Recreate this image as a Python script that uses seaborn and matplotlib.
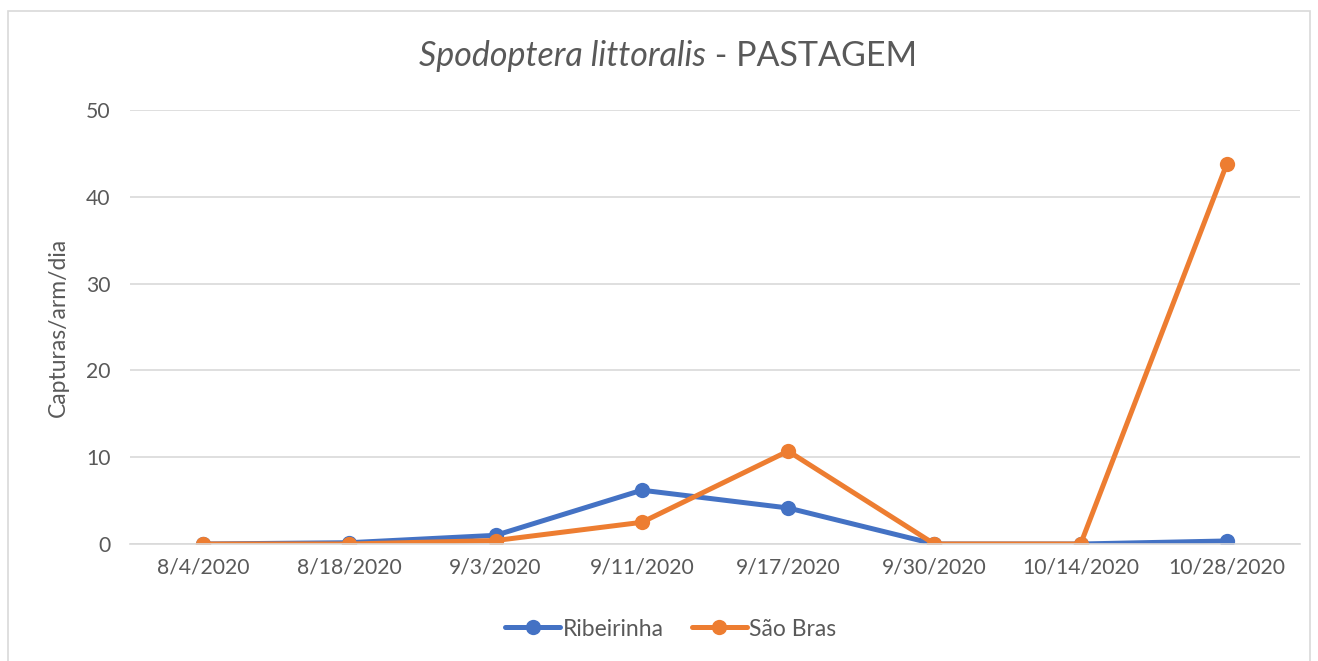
import matplotlib
matplotlib.use("Agg")
import matplotlib.pyplot as plt
import seaborn as sns
import pandas as pd
from matplotlib.patches import Rectangle
from matplotlib.offsetbox import TextArea, HPacker, AnchoredOffsetbox

dates = ["8/4/2020", "8/18/2020", "9/3/2020", "9/11/2020", "9/17/2020", "9/30/2020", "10/14/2020", "10/28/2020"]
ribeirinha = [0.0, 0.15, 1.0, 6.2, 4.15, 0.0, 0.0, 0.35]
sao_bras = [0.0, 0.0, 0.4, 2.5, 10.7, 0.0, 0.0, 43.8]
series_names = ["Ribeirinha", "São Bras"]
colors = ["#4472C4", "#ED7D31"]

df = pd.concat([
    pd.DataFrame({"x": range(len(dates)), "y": ribeirinha, "s": series_names[0]}),
    pd.DataFrame({"x": range(len(dates)), "y": sao_bras, "s": series_names[1]}),
])

sns.set_theme(style="white")
plt.rcParams["font.family"] = ["Lato", "DejaVu Sans"]
txt = "#595959"

fig = plt.figure(figsize=(13.18, 6.61), dpi=100)
ax = fig.add_axes([130/1318, 1 - 544/661, 1170/1318, 434/661])

sns.lineplot(data=df, x="x", y="y", hue="s", palette=colors, marker="o",
             markersize=11, markeredgewidth=0, linewidth=3.6, ax=ax, legend=True)

ax.set_xlim(-0.5, len(dates) - 0.5)
ax.set_ylim(0, 50)
ax.set_yticks([0, 10, 20, 30, 40, 50])
ax.set_xticks(range(len(dates)))
ax.set_xticklabels(dates)
ax.tick_params(axis="both", labelsize=15.2, colors=txt, length=0, pad=10)
ax.tick_params(axis="y", pad=14)
ax.yaxis.grid(True, color="#D9D9D9", linewidth=1.2)
ax.set_axisbelow(True)
for sp in ["top", "right", "left"]:
    ax.spines[sp].set_visible(False)
ax.spines["bottom"].set_color("#D9D9D9")
ax.spines["bottom"].set_linewidth(1.2)
ax.set_xlabel("")
ax.set_ylabel("Capturas/arm/dia", fontsize=16.5, color=txt, labelpad=12)

ta1 = TextArea("Spodoptera littoralis", textprops=dict(fontsize=24.5, color=txt, style="italic"))
ta2 = TextArea(" - PASTAGEM", textprops=dict(fontsize=24.5, color=txt))
box = HPacker(children=[ta1, ta2], align="baseline", pad=0, sep=0)
ab = AnchoredOffsetbox(loc="center", child=box, frameon=False,
                       bbox_to_anchor=(668/1318, 1 - 56/661), bbox_transform=fig.transFigure, pad=0, borderpad=0)
fig.add_artist(ab)

handles, labels = ax.get_legend_handles_labels()
ax.legend(handles, labels, loc="center", bbox_to_anchor=(671/1318, 1 - 629/661),
          bbox_transform=fig.transFigure, ncol=2, frameon=False, fontsize=16.5,
          handlelength=2.4, handletextpad=0.12, columnspacing=1.2, labelcolor=txt,
          borderpad=0, borderaxespad=0)

fig.add_artist(Rectangle((8/1318, -0.01), 1302/1318, 1 - 11/661 + 0.01, transform=fig.transFigure,
                         fill=False, edgecolor="#D9D9D9", linewidth=1.2))

fig.savefig("out.png", dpi=100)
